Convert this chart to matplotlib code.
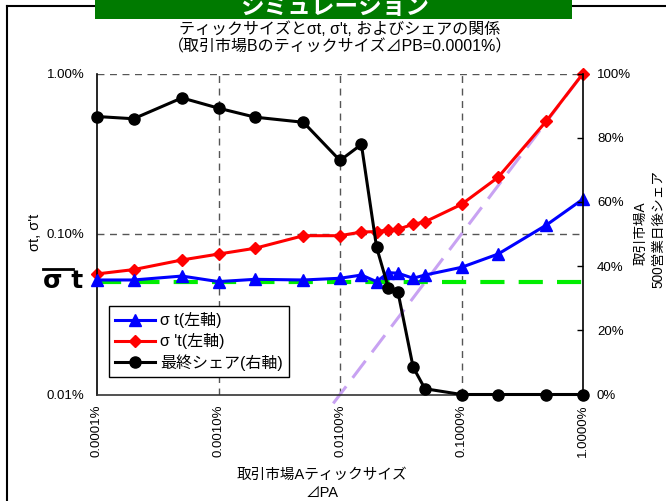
import matplotlib
matplotlib.use("Agg")
import matplotlib.pyplot as plt
from matplotlib.lines import Line2D
from matplotlib.patches import Rectangle
from matplotlib.ticker import FixedLocator, FixedFormatter, NullLocator

plt.rcParams['font.family'] = ['Liberation Sans', 'Noto Sans CJK JP', 'DejaVu Sans']

# ---------------- data ----------------
tick_size_a = [0.0001, 0.0002, 0.0005, 0.001, 0.002, 0.005, 0.01, 0.015, 0.02,
               0.025, 0.03, 0.04, 0.05, 0.1, 0.2, 0.5, 1.0]          # %
sigma_t = [0.0517, 0.0517, 0.0547, 0.0505, 0.0522, 0.0517, 0.0530, 0.0555, 0.0505,
           0.0574, 0.0570, 0.0530, 0.0555, 0.0620, 0.0750, 0.1138, 0.165]   # %
sigma_pt = [0.0564, 0.0600, 0.0689, 0.0750, 0.0815, 0.0976, 0.0976, 0.1029, 0.1035,
            0.106, 0.107, 0.115, 0.119, 0.153, 0.2255, 0.506, 1.0]           # %
final_share = [86.6, 85.9, 92.4, 89.2, 86.4, 84.8, 72.9, 77.9, 45.9,
               33.2, 31.9, 8.5, 1.8, 0, 0, 0, 0]                            # %
sigma_bar = 0.0505        # % (reference level)
diag_x = [0.0088, 1.0]    # sigma = tick size line
diag_y = [0.0088, 1.0]

x_ticks = [0.0001, 0.001, 0.01, 0.1, 1.0]
x_tick_labels = ["0.0001%", "0.0010%", "0.0100%", "0.1000%", "1.0000%"]
y_ticks = [0.01, 0.1, 1.0]
y_tick_labels = ["0.01%", "0.10%", "1.00%"]
y2_ticks = [0, 20, 40, 60, 80, 100]
y2_tick_labels = ["0%", "20%", "40%", "60%", "80%", "100%"]

W, H = 666, 501
fig = plt.figure(figsize=(W / 100, H / 100), dpi=100)

def fx(px):
    return px / W

def fy(py):
    return 1 - py / H

# outer frame and banner
fig.add_artist(Line2D([fx(7), fx(7)], [fy(6), fy(501)], color='black', lw=1.5))
fig.add_artist(Line2D([fx(7), fx(666)], [fy(6), fy(6)], color='black', lw=1.5))
fig.add_artist(Rectangle((fx(95), fy(19)), fx(572) - fx(95), fy(0) - fy(19),
                         facecolor='#007a00', edgecolor='none', zorder=5))
fig.text(fx(335), fy(14.5), "シミュレーション", color='white', fontsize=17,
         fontweight='bold', ha='center', va='baseline', zorder=6,
         family=['Noto Sans CJK JP'])

ax = fig.add_axes([fx(97), fy(394.5), fx(583) - fx(97), fy(73.5) - fy(394.5)])
ax.set_xscale('log')
ax.set_yscale('log')
ax.set_xlim(0.0001, 1.0)
ax.set_ylim(0.01, 1.0)

grid_kw = dict(color='#555555', lw=1.0, dashes=(5, 4), zorder=0.5)
for gx in [0.001, 0.01, 0.1]:
    ax.axvline(gx, **grid_kw)
for gy in [0.1, 1.0]:
    ax.axhline(gy, **grid_kw)

ax.plot(diag_x, diag_y, color='#c8a2f2', lw=2.2, dashes=(7, 3.5), zorder=1, clip_on=False)
ax.axhline(sigma_bar, color='#00ee00', lw=3, dashes=(5.8, 3.4), zorder=1.5)
h_blue, = ax.plot(tick_size_a, sigma_t, color='#0000ff', lw=2.2, marker='^',
                  markersize=8, zorder=3, clip_on=False, label='σ t(左軸)')
h_red, = ax.plot(tick_size_a, sigma_pt, color='#ff0000', lw=2.2, marker='D',
                 markersize=6.5, zorder=2, clip_on=False, label="σ 't(左軸)")

ax.xaxis.set_major_locator(FixedLocator(x_ticks))
ax.xaxis.set_major_formatter(FixedFormatter(x_tick_labels))
ax.xaxis.set_minor_locator(NullLocator())
ax.yaxis.set_major_locator(FixedLocator(y_ticks))
ax.yaxis.set_major_formatter(FixedFormatter(y_tick_labels))
ax.yaxis.set_minor_locator(NullLocator())
ax.tick_params(axis='x', length=0, pad=7, labelsize=9.5, labelrotation=90)
ax.tick_params(axis='y', length=0, pad=9, labelsize=9.5)

ax.spines['top'].set_visible(False)
ax.spines['right'].set_visible(False)
ax.spines['left'].set_color('black')
ax.spines['left'].set_linewidth(1.2)
ax.spines['bottom'].set_color('#333333')
ax.spines['bottom'].set_linewidth(1.2)

ax2 = ax.twinx()
ax2.set_ylim(0, 100)
h_black, = ax2.plot(tick_size_a, final_share, color='black', lw=2.2, marker='o',
                    markersize=8, zorder=4, clip_on=False, label='最終シェア(右軸)')
ax2.yaxis.set_major_locator(FixedLocator(y2_ticks))
ax2.yaxis.set_major_formatter(FixedFormatter(y2_tick_labels))
ax2.tick_params(axis='y', direction='in', length=4, width=1, pad=10, labelsize=9.5)
for s in ['top', 'left', 'bottom']:
    ax2.spines[s].set_visible(False)
ax2.spines['right'].set_color('black')
ax2.spines['right'].set_linewidth(1.2)

leg = ax2.legend(handles=[h_blue, h_red, h_black], loc='lower left',
                 bbox_to_anchor=(0.0247, 0.0545), borderaxespad=0,
                 fontsize=11.5, frameon=True, fancybox=False, framealpha=1,
                 edgecolor='black', handlelength=2.5, labelspacing=0.3,
                 borderpad=0.4, handletextpad=0.3)
leg.get_frame().set_linewidth(1.0)

# titles and labels
fig.text(fx(340), fy(29), "ティックサイズとσt, σ't, およびシェアの関係",
         ha='center', va='center', fontsize=11.5)
fig.text(fx(340), fy(46.5), "（取引市場Bのティックサイズ⊿PB=0.0001%）",
         ha='center', va='center', fontsize=11.5)
fig.text(fx(35), fy(232), "σt, σ't", rotation=90, ha='center', va='center', fontsize=10.5)
fig.add_artist(Line2D([fx(43), fx(73)], [fy(269), fy(269)], color='black', lw=2))
fig.text(fx(63), fy(281), "σ t", ha='center', va='center', fontsize=18,
         fontweight='bold', family=['DejaVu Sans'])
fig.text(fx(641), fy(233), "取引市場A", rotation=90, ha='center', va='center', fontsize=9.8)
fig.text(fx(658), fy(229), "500営業日後シェア", rotation=90, ha='center', va='center', fontsize=9.8)
fig.text(fx(322), fy(475), "取引市場Aティックサイズ", ha='center', va='center', fontsize=10.5)
fig.text(fx(322), fy(493), "⊿PA", ha='center', va='center', fontsize=10.5)

fig.savefig("out.png", dpi=100)
